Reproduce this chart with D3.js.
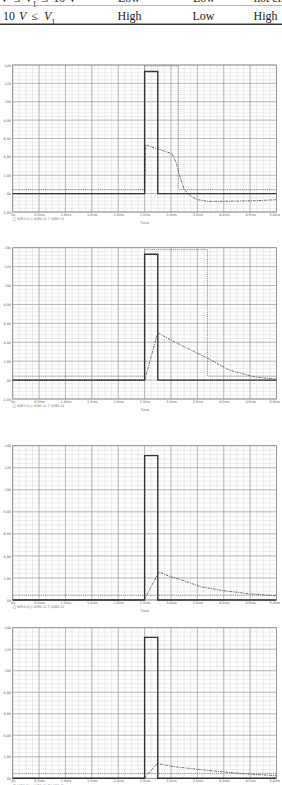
<!DOCTYPE html>
<html>
<head>
<meta charset="utf-8">
<script src="https://cdn.jsdelivr.net/npm/d3@7"></script>
<style>
body { margin: 0; background: #fff; }
</style>
</head>
<body>
<div id="chart"></div>
<script>
// axis ticks (time in ms, volts)
var timeTicks = [0, 0.5, 1, 1.5, 2, 2.5, 3, 3.5, 4, 4.5, 5];
var timeLabels = ["0s", "0.5ms", "1.0ms", "1.5ms", "2.0ms", "2.5ms", "3.0ms", "3.5ms", "4.0ms", "4.5ms", "5.0ms"];
var voltTicksA = [-2, 0, 2, 4, 6, 8, 10, 12, 14];
var voltLabelsA = ["-2.0V", "0V", "2.0V", "4.0V", "6.0V", "8.0V", "10V", "12V", "14V"];
var voltTicksB = [0, 2, 4, 6, 8, 10, 12, 14];
var voltLabelsB = ["0V", "2.0V", "4.0V", "6.0V", "8.0V", "10V", "12V", "14V"];
var legendNames = ["\u25A1 V(R1:2)", "\u25C7 V(R1:1)", "\u25BD V(R2:2)"];

// input pulse (solid)
var pulseT = [0, 2.5, 2.5, 2.75, 2.75, 5];
var pulse1V = [0, 0, 13.3, 13.3, 0, 0];
var pulse2V = [0, 0, 13.3, 13.3, 0, 0];
var pulse3V = [0, 0, 13.1, 13.1, 0, 0];
var pulse4V = [0, 0, 13.1, 13.1, 0, 0];

// dotted trace
var dot1T = [0, 2.5, 2.5, 3.14, 3.14, 5];
var dot1V = [0.44, 0.44, 13.9, 13.9, 0.44, 0.44];
var dot2T = [0, 2.5, 2.5, 3.69, 3.69, 5];
var dot2V = [0.42, 0.42, 13.8, 13.8, 0.42, 0.42];
var dot3T = [0, 5];
var dot3V = [0.44, 0.44];
var dot4T = [0, 5];
var dot4V = [0.46, 0.46];

// dash-dot trace
var dd1T = [0, 2.5, 2.52, 3.02, 3.1, 3.16, 3.25, 3.38, 3.5, 3.7, 4.0, 4.33, 4.64, 5.0];
var dd1V = [0, 0, 5.3, 4.35, 3.35, 2.05, 0.45, -0.3, -0.65, -0.84, -0.84, -0.8, -0.76, -0.66];
var dd2T = [0, 2.5, 2.75, 3.06, 3.38, 3.7, 4.1, 4.58, 5.0];
var dd2V = [0, 0, 5.0, 4.06, 3.18, 2.3, 1.06, 0.34, 0.1];
var dd3T = [0, 2.49, 2.77, 3.0, 3.25, 3.56, 4.0, 4.5, 5.0];
var dd3V = [0, 0, 2.54, 2.1, 1.74, 1.2, 0.84, 0.56, 0.38];
var dd4T = [0, 2.49, 2.74, 3.06, 3.69, 4.33, 5.0];
var dd4V = [0, 0, 1.38, 1.08, 0.74, 0.44, 0.24];

var width = 282, height = 785;
var plotLeft = 12.7, plotRight = 276.5;

var svg = d3.select("#chart").append("svg")
    .attr("width", width)
    .attr("height", height)
    .style("display", "block")
    .style("background", "#fff");

// ---- table fragment at the top ----
var serif = "'Liberation Serif','DejaVu Serif',serif";
function mathText(g, x, y, parts) {
    var t = g.append("text").attr("x", x).attr("y", y)
        .style("font-family", serif).style("font-size", "12px")
        .style("white-space", "pre").attr("fill", "#222");
    parts.forEach(function (p) {
        var ts = t.append("tspan").text(p.s);
        if (p.i) ts.style("font-style", "italic");
        if (p.sub) ts.attr("baseline-shift", "sub").style("font-size", "8px");
        if (p.dx) ts.attr("dx", p.dx);
    });
    return t;
}
function cell(g, x, y, s, anchor) {
    g.append("text").attr("x", x).attr("y", y).attr("text-anchor", anchor || "middle")
        .style("font-family", serif).style("font-size", "12px").attr("fill", "#222").text(s);
}
var table = svg.append("g");
mathText(table, 0, 2, [{s: "V"}, {s: "\u2264", dx: 5}, {s: "V", i: 1, dx: 5}, {s: "1", sub: 1}, {s: "\u2264", dx: 5}, {s: "10 V", dx: 5}]);
cell(table, 129, 2, "Low");
cell(table, 204, 2, "Low");
cell(table, 254, 2, "not changed", "start");
table.append("line").attr("x1", 0).attr("x2", width).attr("y1", 5.5).attr("y2", 5.5)
    .attr("stroke", "#999").attr("stroke-width", 0.7);
mathText(table, 3, 20, [{s: "10"}, {s: "V", i: 1, dx: 4}, {s: "\u2264", dx: 5}, {s: "V", i: 1, dx: 6}, {s: "1", sub: 1}]);
cell(table, 129.5, 20, "High");
cell(table, 203.5, 20, "Low");
cell(table, 265.5, 20, "High");
table.append("line").attr("x1", 0).attr("x2", width).attr("y1", 24.3).attr("y2", 24.3)
    .attr("stroke", "#333").attr("stroke-width", 1.6);

// ---- four simulation panels ----
var panels = [
    {top: 65, bottom: 212, ticks: voltTicksA, labels: voltLabelsA, pulse: pulse1V, dotT: dot1T, dotV: dot1V, ddT: dd1T, ddV: dd1V},
    {top: 247.7, bottom: 399, ticks: voltTicksA, labels: voltLabelsA, pulse: pulse2V, dotT: dot2T, dotV: dot2V, ddT: dd2T, ddV: dd2V},
    {top: 445.7, bottom: 600, ticks: voltTicksB, labels: voltLabelsB, pulse: pulse3V, dotT: dot3T, dotV: dot3V, ddT: dd3T, ddV: dd3V},
    {top: 627.7, bottom: 778.3, ticks: voltTicksB, labels: voltLabelsB, pulse: pulse4V, dotT: dot4T, dotV: dot4V, ddT: dd4T, ddV: dd4V}
];

panels.forEach(drawPanel);

function drawPanel(p) {
    var vMin = p.ticks[0], vMax = p.ticks[p.ticks.length - 1];
    var x = d3.scaleLinear().domain([0, 5]).range([plotLeft, plotRight]);
    var y = d3.scaleLinear().domain([vMin, vMax]).range([p.bottom, p.top]);
    var g = svg.append("g");

    // minor grid
    var minorX = d3.range(0, 5.0001, 0.125);
    var minorY = d3.range(vMin, vMax + 0.0001, 0.4);
    g.selectAll(".mx").data(minorX).enter().append("line")
        .attr("x1", d => x(d)).attr("x2", d => x(d))
        .attr("y1", p.top).attr("y2", p.bottom)
        .attr("stroke", "#d8d8d8").attr("stroke-width", 0.5);
    g.selectAll(".my").data(minorY).enter().append("line")
        .attr("x1", plotLeft).attr("x2", plotRight)
        .attr("y1", d => y(d)).attr("y2", d => y(d))
        .attr("stroke", "#d8d8d8").attr("stroke-width", 0.5);
    // major grid
    g.selectAll(".gx").data(timeTicks).enter().append("line")
        .attr("x1", d => x(d)).attr("x2", d => x(d))
        .attr("y1", p.top).attr("y2", p.bottom)
        .attr("stroke", "#959595").attr("stroke-width", 0.6);
    g.selectAll(".gy").data(p.ticks).enter().append("line")
        .attr("x1", plotLeft).attr("x2", plotRight)
        .attr("y1", d => y(d)).attr("y2", d => y(d))
        .attr("stroke", "#959595").attr("stroke-width", 0.6);
    g.append("rect").attr("x", plotLeft).attr("y", p.top)
        .attr("width", plotRight - plotLeft).attr("height", p.bottom - p.top)
        .attr("fill", "none").attr("stroke", "#888").attr("stroke-width", 0.7);

    // axes (labels only)
    var yAxisG = g.append("g").attr("transform", "translate(" + plotLeft + ",0)")
        .call(d3.axisLeft(y).tickValues(p.ticks).tickSize(0).tickPadding(1.5)
            .tickFormat((d, i) => p.labels[i]));
    var xAxisG = g.append("g").attr("transform", "translate(0," + p.bottom + ")")
        .call(d3.axisBottom(x).tickValues(timeTicks).tickSize(0).tickPadding(1.5)
            .tickFormat((d, i) => timeLabels[i]));
    [yAxisG, xAxisG].forEach(function (a) {
        a.select(".domain").remove();
        a.selectAll("text").style("font-family", "'DejaVu Sans',sans-serif")
            .style("font-size", "3.4px").attr("fill", "#555");
    });
    xAxisG.selectAll("text").filter((d, i) => i === timeTicks.length - 1)
        .attr("text-anchor", "end").attr("dx", "3px");

    // legend and axis title
    legendNames.forEach(function (n, i) {
        g.append("text").attr("x", plotLeft + i * 17.5).attr("y", p.bottom + 8.3)
            .style("font-family", "'DejaVu Sans',sans-serif").style("font-size", "3.4px")
            .attr("fill", "#555").text(n);
    });
    g.append("text").attr("x", (plotLeft + plotRight) / 2).attr("y", p.bottom + 11.5)
        .attr("text-anchor", "middle")
        .style("font-family", "'DejaVu Sans',sans-serif").style("font-size", "3.4px")
        .attr("fill", "#555").text("Time");

    var line = d3.line().x(d => x(d[0])).y(d => y(d[1]));

    g.append("path").datum(d3.zip(p.dotT, p.dotV)).attr("d", line)
        .attr("fill", "none").attr("stroke", "#777").attr("stroke-width", 0.9)
        .attr("stroke-dasharray", "1,0.9");
    g.append("path").datum(d3.zip(p.ddT, p.ddV)).attr("d", line)
        .attr("fill", "none").attr("stroke", "#5a5a5a").attr("stroke-width", 0.9)
        .attr("stroke-dasharray", "2.5,1,1,1");
    g.append("path").datum(d3.zip(pulseT, p.pulse)).attr("d", line)
        .attr("fill", "none").attr("stroke", "#333").attr("stroke-width", 1.4);
}
</script>
</body>
</html>
